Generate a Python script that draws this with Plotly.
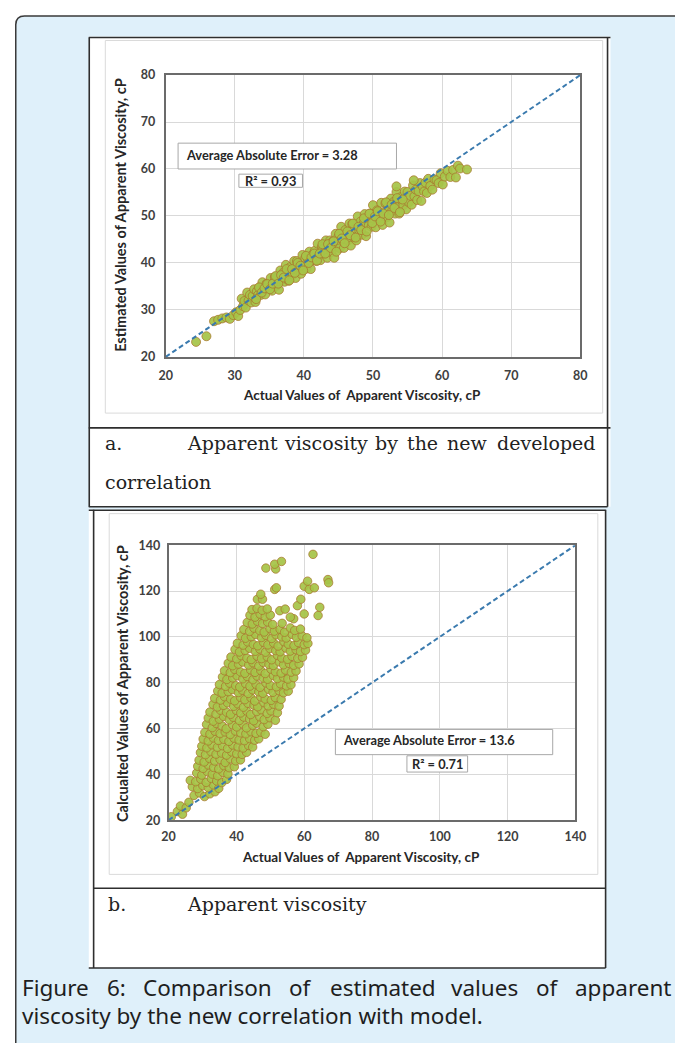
import plotly.graph_objects as go

W, H = 675, 1046

# ---------------- data: panel a (actual vs estimated) ----------------
xa = [24.4, 25.9, 27.0, 27.6, 28.2, 28.8, 29.3, 29.8, 30.2, 30.5, 30.8,
      31.0, 31.2, 31.4, 31.6, 31.8, 32.0, 32.2, 32.4, 32.6, 32.8, 33.0, 33.2, 33.4, 33.6, 33.8, 34.0, 34.2, 34.4, 34.6, 34.8,
      35.0, 35.2, 35.4, 35.6, 35.8, 36.0, 36.2, 36.4, 36.6, 36.8, 37.0, 37.2, 37.4, 37.6, 37.8, 38.0, 38.2, 38.4, 38.6, 38.8,
      39.0, 39.2, 39.4, 39.6, 39.8, 40.0, 40.2, 40.4, 40.6, 40.8, 41.0, 41.2, 41.4, 41.6, 41.8, 42.0, 42.2, 42.4, 42.6, 42.8,
      43.0, 43.2, 43.4, 43.6, 43.8, 44.0, 44.2, 44.4, 44.6, 44.8, 45.0, 45.2, 45.4, 45.6, 45.8, 46.0, 46.2, 46.4, 46.6, 46.8,
      47.0, 47.2, 47.4, 47.6, 47.8, 48.0, 48.2, 48.4, 48.6, 48.8, 49.0, 49.2, 49.4, 49.6, 49.8, 50.0, 50.2, 50.4, 50.6, 50.8,
      51.0, 51.2, 51.4, 51.6, 51.8, 52.0, 52.2, 52.4, 52.6, 52.8, 53.0, 53.2, 53.4, 53.6, 53.8, 54.0, 54.2, 54.4, 54.6, 54.8,
      55.0, 55.2, 55.4, 55.6, 55.8, 56.0, 56.2, 56.4, 56.6, 56.8, 57.0, 57.2, 57.4, 57.6, 57.8, 58.0, 58.3, 58.6, 58.9, 59.2,
      59.5, 59.8, 60.1, 60.4, 60.8, 61.2, 61.6, 62.0, 62.3, 62.6, 63.6, 53.4, 55.9,
      33.1, 33.5, 33.9, 34.3, 34.7, 35.1, 35.5, 35.9, 36.3, 36.7, 37.1, 37.5, 37.9, 38.3, 38.7, 39.1, 39.5, 39.9,
      40.3, 40.7, 41.1, 41.5, 41.9, 42.3, 42.7, 43.1, 43.5, 43.9, 44.3, 44.7, 45.1, 45.5, 45.9, 46.3, 46.7, 47.1,
      47.5, 47.9, 48.3, 48.7, 49.1, 49.5, 49.9, 50.3, 50.7, 51.1, 51.5, 51.9, 52.3, 52.7, 53.1, 53.5, 53.9, 54.3]
ya = [23.2, 24.4, 27.6, 27.9, 28.2, 28.4, 28.1, 28.9, 29.5, 28.7, 30.0,
      32.4, 30.8, 31.9, 30.5, 33.7, 32.0, 33.2, 31.6, 33.0, 34.4, 31.7, 34.0, 33.2, 34.8, 33.2, 35.9, 34.3, 33.3, 35.6, 35.4,
      34.6, 36.8, 34.1, 35.8, 37.0, 35.1, 36.9, 34.3, 38.4, 36.4, 37.9, 36.0, 39.6, 37.5, 36.2, 39.1, 38.4, 37.5, 40.4, 36.8,
      40.4, 38.3, 39.6, 37.7, 41.7, 39.5, 41.0, 38.8, 40.7, 42.4, 38.7, 41.7, 40.6, 42.6, 40.4, 44.1, 41.8, 40.6, 43.4, 43.0,
      41.9, 44.8, 41.1, 43.3, 44.8, 42.3, 44.6, 41.1, 46.2, 43.8, 45.6, 43.1, 47.7, 44.9, 43.2, 47.0, 46.1, 44.8, 48.4, 43.7,
      48.3, 45.5, 47.3, 44.8, 49.9, 47.0, 48.8, 46.0, 48.3, 50.4, 45.7, 49.5, 48.0, 50.5, 47.7, 52.3, 49.4, 47.6, 51.2, 50.7,
      49.3, 52.8, 48.1, 50.8, 52.7, 49.7, 52.0, 48.6, 53.7, 51.2, 53.0, 50.5, 55.1, 52.2, 50.5, 54.0, 53.2, 52.3, 55.2, 51.4,
      55.1, 52.9, 54.3, 52.4, 56.5, 54.2, 55.6, 53.4, 55.3, 57.0, 53.2, 56.3, 55.2, 57.1, 54.9, 57.9, 56.4, 55.6, 57.8, 57.6,
      57.0, 59.1, 56.7, 58.4, 59.6, 58.3, 59.8, 58.2, 60.7, 60.1, 59.9, 56.3, 57.6,
      32.3, 34.8, 33.7, 34.6, 35.5, 34.4, 35.6, 37.2, 35.6, 37.4, 36.9, 38.7, 36.3, 38.7, 37.9, 40.0, 39.4, 38.4,
      41.5, 40.0, 41.2, 42.0, 40.5, 42.0, 44.0, 42.0, 44.0, 43.2, 44.6, 42.4, 46.2, 45.2, 44.2, 46.7, 45.9, 48.4,
      45.4, 47.7, 47.0, 49.5, 46.7, 50.5, 48.5, 49.9, 51.0, 48.8, 50.5, 52.9, 50.2, 52.4, 51.7, 53.8, 50.8, 53.5]

# ---------------- data: panel b (actual vs calculated) ----------------
xb = [20.8, 22.6, 24.1, 23.5, 25.2, 26.0,
      27.5, 29.1, 30.6, 32.2, 33.7,
      27.0, 28.6, 30.1, 31.7, 33.2, 34.8,
      26.4, 28.0, 29.5, 31.1, 32.6, 34.2, 35.7, 37.1,
      28.3, 29.8, 31.4, 32.9, 34.5, 36.0, 37.5,
      28.6, 30.2, 31.7, 33.3, 34.8, 36.3, 37.9, 39.4,
      29.0, 30.5, 32.1, 33.6, 35.2, 36.7, 38.2, 39.8, 41.2,
      29.4, 30.9, 32.5, 34.0, 35.6, 37.1, 38.6, 40.1, 41.7, 43.0,
      29.8, 31.3, 32.8, 34.4, 35.9, 37.4, 38.9, 40.5, 42.0, 43.6, 44.8,
      30.2, 31.7, 33.2, 34.7, 36.3, 37.8, 39.3, 40.8, 42.4, 43.9, 45.4, 46.6,
      30.7, 32.2, 33.7, 35.2, 36.7, 38.2, 39.7, 41.3, 42.8, 44.3, 45.8, 47.2, 48.5,
      31.2, 32.9, 34.1, 35.8, 37.0, 38.9, 40.1, 41.9, 43.0, 44.8, 46.0, 47.9, 49.3,
      31.7, 33.2, 35.0, 36.2, 37.9, 39.1, 40.9, 42.2, 43.9, 45.1, 46.9, 48.2, 49.9, 51.5,
      32.2, 34.0, 35.3, 37.1, 38.3, 40.0, 41.3, 43.1, 44.2, 46.0, 47.3, 49.1, 50.2, 52.1,
      33.1, 34.4, 36.2, 37.4, 39.2, 40.4, 42.1, 43.4, 45.2, 46.3, 48.1, 49.4, 51.0, 52.6,
      33.6, 35.3, 36.5, 38.3, 39.5, 41.2, 42.5, 44.3, 45.4, 47.2, 48.5, 50.3, 51.5, 53.2,
      34.5, 35.8, 37.6, 38.8, 40.6, 41.8, 43.5, 44.8, 46.6, 47.8, 49.5, 50.8, 52.6, 53.9, 55.3,
      35.0, 36.8, 38.0, 39.8, 41.0, 42.7, 44.0, 45.8, 47.0, 48.7, 50.0, 51.8, 53.0, 54.8, 56.1,
      35.9, 37.2, 38.9, 40.2, 41.9, 43.2, 44.9, 46.1, 47.9, 49.2, 50.9, 52.1, 53.9, 55.2, 56.9,
      36.5, 38.2, 39.5, 41.2, 42.5, 44.2, 45.5, 47.2, 48.5, 50.2, 51.5, 53.2, 54.5, 56.2, 57.6,
      37.6, 38.9, 40.6, 41.9, 43.6, 44.9, 46.6, 47.9, 49.6, 50.9, 52.6, 53.9, 55.6, 56.9, 58.5,
      38.4, 40.1, 41.4, 43.1, 44.4, 46.1, 47.4, 49.1, 50.4, 52.1, 53.4, 55.1, 56.4, 58.1, 59.5,
      39.6, 40.9, 42.6, 43.9, 45.6, 46.9, 48.6, 49.9, 51.6, 52.9, 54.6, 55.9, 57.6, 58.9, 60.4,
      40.3, 42.0, 43.3, 45.0, 46.3, 48.0, 49.3, 51.0, 52.3, 54.0, 55.3, 57.0, 58.3, 60.0, 61.1,
      41.4, 42.7, 44.4, 45.7, 47.4, 48.7, 50.4, 51.7, 53.4, 54.7, 56.4, 57.7, 59.4, 60.8,
      42.2, 43.9, 45.2, 46.9, 48.2, 49.9, 51.2, 52.9, 54.2, 55.9, 57.2, 58.9,
      43.2, 44.7, 46.2, 47.7, 49.2, 50.7, 53.5, 56.9,
      44.0, 45.5, 47.0, 48.5, 50.0, 55.9, 60.0, 64.1,
      44.6, 46.1, 47.6, 49.1, 52.8, 54.4, 58.0, 64.6,
      46.2, 47.7, 47.2, 59.0, 51.3, 51.8, 60.0, 61.5, 63.0, 61.0, 67.0, 67.2, 48.7, 51.6, 51.3, 53.3, 62.6]
yb = [21.5, 23.8, 22.6, 26.2, 25.4, 27.8,
      30.8, 31.9, 30.3, 31.5, 32.4,
      34.6, 33.8, 35.1, 34.2, 35.4, 33.9,
      37.4, 36.8, 37.9, 36.5, 38.2, 37.1, 36.4, 37.8,
      40.6, 39.7, 41.2, 40.1, 39.4, 40.9, 40.2,
      43.5, 42.6, 44.1, 43.0, 42.4, 43.8, 42.9, 43.3,
      46.2, 45.4, 46.9, 45.8, 46.5, 45.2, 46.8, 45.9, 46.3,
      49.5, 48.6, 49.9, 48.8, 49.3, 48.4, 49.8, 49.0, 48.7, 49.6,
      52.3, 51.6, 52.9, 51.8, 52.5, 51.3, 52.8, 52.0, 51.5, 52.6, 51.9,
      55.4, 54.6, 55.9, 54.8, 55.3, 54.4, 55.8, 55.0, 54.7, 55.6, 54.9, 55.5,
      58.3, 57.6, 58.8, 57.8, 58.5, 57.4, 58.9, 58.1, 57.7, 58.6, 57.9, 58.4, 57.5,
      61.8, 60.4, 62.2, 61.1, 59.9, 61.6, 60.7, 62.0, 60.3, 61.4, 62.3, 60.8, 61.9,
      64.6, 63.2, 64.1, 65.3, 63.8, 64.9, 63.5, 65.0, 64.2, 63.4, 65.1, 63.9, 64.7, 63.6,
      67.2, 66.3, 68.0, 67.1, 66.2, 67.9, 66.8, 67.6, 66.1, 67.4, 68.2, 66.6, 67.7, 66.9,
      70.5, 69.4, 70.1, 71.2, 69.7, 70.8, 69.3, 71.0, 70.2, 69.5, 71.3, 69.9, 70.6, 69.8,
      73.2, 72.4, 73.9, 72.8, 72.1, 73.6, 72.6, 73.4, 72.0, 73.8, 72.9, 72.3, 73.5, 72.7,
      76.4, 75.5, 76.1, 77.0, 75.7, 76.7, 75.3, 76.9, 76.0, 75.4, 77.1, 75.8, 76.5, 75.6, 76.3,
      79.2, 78.4, 79.8, 78.7, 78.1, 79.6, 78.5, 79.3, 78.0, 79.9, 78.8, 78.2, 79.5, 78.6, 79.1,
      82.5, 81.4, 82.1, 83.0, 81.7, 82.7, 81.3, 82.9, 82.0, 81.5, 83.1, 81.8, 82.4, 81.6, 82.2,
      85.2, 84.4, 85.8, 84.7, 84.1, 85.6, 84.5, 85.3, 84.0, 85.9, 84.8, 84.2, 85.5, 84.6, 85.1,
      88.5, 87.4, 88.1, 89.0, 87.7, 88.7, 87.3, 88.9, 88.0, 87.5, 89.1, 87.8, 88.4, 87.6, 88.2,
      91.2, 90.4, 91.8, 90.7, 90.1, 91.6, 90.5, 91.3, 90.0, 91.9, 90.8, 90.2, 91.5, 90.6, 91.1,
      94.5, 93.4, 94.1, 95.0, 93.7, 94.7, 93.3, 94.9, 94.0, 93.5, 95.1, 93.8, 94.4, 93.6, 94.2,
      97.2, 96.4, 97.8, 96.7, 96.1, 97.6, 96.5, 97.3, 96.0, 97.9, 96.8, 96.2, 97.5, 96.6, 97.1,
      100.5, 99.4, 100.1, 101.0, 99.7, 100.7, 99.3, 100.9, 100.0, 99.5, 101.1, 99.8, 100.4, 99.6,
      103.2, 102.4, 103.8, 102.7, 102.1, 103.6, 102.5, 103.3, 102.0, 103.9, 102.8, 103.4,
      106.3, 105.6, 106.8, 105.8, 106.5, 105.4, 105.9, 107.9,
      109.4, 108.6, 109.9, 108.8, 109.5, 108.6, 110.0, 109.3,
      111.9, 112.4, 111.6, 112.2, 111.4, 112.1, 113.6, 112.9,
      116.4, 116.4, 118.6, 116.4, 120.7, 121.4, 122.1, 120.7, 121.4, 124.3, 125.0, 123.6, 130.0, 129.6, 131.7, 132.9, 136.0]

diag_a = [20, 80]
diag_b = [20, 140]
ticks_a = [20, 30, 40, 50, 60, 70, 80]
ticks_b = [20, 40, 60, 80, 100, 120, 140]

xtitle = "Actual Values of\u00a0 Apparent Viscosity, cP"
ytitle_a = "Estimated Values of Apparent Viscosity, cP"
ytitle_b = "Calcualted Values of Apparent Viscosity, cP"
aae_a, r2_a = "Average Absolute Error = 3.28", "R² = 0.93"
aae_b, r2_b = "Average Absolute Error = 13.6", "R² = 0.71"
cap_a1 = ["Apparent", "viscosity", "by", "the", "new"]
cap_a1_last = "developed"
cap_a2 = "correlation"
cap_b = "Apparent viscosity"
fig_line1 = ["Figure", "6:", "Comparison", "of", "estimated", "values", "of", "apparent"]
fig_line2 = "viscosity by the new correlation with model."

# ---------------- helpers (pixel -> paper) ----------------
def PX(x):
    return x / W

def PY(y):
    return 1 - y / H

LIGHT_BLUE = "#DFF0FA"
FILL = "rgba(166,196,72,0.93)"
EDGE = "rgba(170,118,46,0.75)"
DASH = "#3A7AAE"
CHART_FONT = "Lato"

fig = go.Figure()

fig.add_trace(go.Scatter(x=xa, y=ya, mode="markers", xaxis="x", yaxis="y",
                         marker=dict(size=9, color=FILL, line=dict(color=EDGE, width=1)),
                         hoverinfo="skip"))
fig.add_trace(go.Scatter(x=diag_a, y=diag_a, mode="lines", xaxis="x", yaxis="y",
                         line=dict(color=DASH, width=2, dash="5px,3px"), hoverinfo="skip"))
fig.add_trace(go.Scatter(x=xb, y=yb, mode="markers", xaxis="x2", yaxis="y2",
                         marker=dict(size=8.5, color=FILL, line=dict(color=EDGE, width=1)),
                         hoverinfo="skip"))
fig.add_trace(go.Scatter(x=diag_b, y=diag_b, mode="lines", xaxis="x2", yaxis="y2",
                         line=dict(color=DASH, width=2, dash="5px,3px"), hoverinfo="skip"))

tickfont = dict(family=CHART_FONT, size=12.5, color="#404040", weight="bold")
axis_common = dict(showgrid=True, gridcolor="#D9D9D9", gridwidth=1, showline=True,
                   linecolor="#6B6B6B", linewidth=1.8, mirror=True, zeroline=False,
                   ticks="", tickfont=tickfont, fixedrange=True)

fig.update_layout(
    width=W, height=H, margin=dict(l=0, r=0, t=0, b=0),
    paper_bgcolor="white", plot_bgcolor="white", showlegend=False,
    xaxis=dict(domain=[PX(163), PX(589)], range=[20, 80], tickvals=ticks_a, anchor="y",
               ticklabelstandoff=6, **axis_common),
    yaxis=dict(domain=[PY(354), PY(68)], range=[20, 80], tickvals=ticks_a, anchor="x",
               ticklabelstandoff=6, **axis_common),
    xaxis2=dict(domain=[PX(166), PX(584)], range=[20, 140], tickvals=ticks_b, anchor="y2",
                ticklabelstandoff=4, **axis_common),
    yaxis2=dict(domain=[PY(824), PY(545)], range=[20, 140], tickvals=ticks_b, anchor="x2",
                ticklabelstandoff=4, **axis_common),
)

shapes = []
shapes.append(dict(type="path", xref="paper", yref="paper", layer="below",
                   path=f"M{PX(9)},{PY(1050)} L{PX(9)},{PY(17)} Q{PX(9)},{PY(8)} {PX(18)},{PY(8)} "
                        f"L{PX(690)},{PY(8)} L{PX(690)},{PY(1050)} Z",
                   fillcolor=LIGHT_BLUE, line=dict(width=0)))
shapes.append(dict(type="path", xref="paper", yref="paper", layer="below",
                   path=f"M{PX(9)},{PY(1050)} L{PX(9)},{PY(17)} Q{PX(9)},{PY(8)} {PX(18)},{PY(8)} L{PX(690)},{PY(8)}",
                   fillcolor="rgba(0,0,0,0)", line=dict(color="#3A3A3A", width=1.5)))
shapes.append(dict(type="rect", xref="paper", yref="paper", layer="below",
                   x0=PX(84), x1=PX(620), y0=PY(506), y1=PY(29),
                   fillcolor="white", line=dict(width=0)))
shapes.append(dict(type="rect", xref="paper", yref="paper", layer="below",
                   x0=PX(84), x1=PX(615), y0=PY(974), y1=PY(509),
                   fillcolor="white", line=dict(width=0)))
shapes.append(dict(type="rect", xref="paper", yref="paper", layer="below",
                   x0=PX(101), x1=PX(612), y0=PY(411), y1=PY(33),
                   fillcolor="rgba(0,0,0,0)", line=dict(color="#DADADA", width=1)))
shapes.append(dict(type="rect", xref="paper", yref="paper", layer="below",
                   x0=PX(105), x1=PX(607), y0=PY(879), y1=PY(513),
                   fillcolor="rgba(0,0,0,0)", line=dict(color="#DADADA", width=1)))

def hline(x0, x1, y, w=1.6, c="#2E2E2E"):
    shapes.append(dict(type="line", xref="paper", yref="paper", layer="below",
                       x0=PX(x0), x1=PX(x1), y0=PY(y), y1=PY(y), line=dict(color=c, width=w)))

def vline(x, y0, y1, w=1.6, c="#2E2E2E"):
    shapes.append(dict(type="line", xref="paper", yref="paper", layer="below",
                       x0=PX(x), x1=PX(x), y0=PY(y0), y1=PY(y1), line=dict(color=c, width=w)))

hline(84, 620, 30)
vline(84.5, 30, 506)
vline(617, 30, 506)
hline(84, 620, 426)
hline(84, 617, 506)
hline(84, 615, 509.5)
vline(89, 509, 974)
vline(615, 509, 974)
hline(89, 615, 893)
hline(84, 615, 974)

box_line = dict(color="#A8A8A8", width=1)
shapes.append(dict(type="rect", xref="x", yref="y", x0=21.8, x1=53.4, y0=60.0, y1=65.5,
                   fillcolor="white", line=box_line, layer="above"))
shapes.append(dict(type="rect", xref="x", yref="y", x0=30.6, x1=39.8, y0=56.1, y1=58.9,
                   fillcolor="white", line=box_line, layer="above"))
shapes.append(dict(type="rect", xref="x2", yref="y2", x0=69.2, x1=133.3, y0=48.6, y1=59.6,
                   fillcolor="white", line=box_line, layer="above"))
shapes.append(dict(type="rect", xref="x2", yref="y2", x0=90.3, x1=108.2, y0=41.0, y1=48.1,
                   fillcolor="white", line=box_line, layer="above"))
fig.update_layout(shapes=shapes)

ann = []
sfont = dict(family=CHART_FONT, size=12.8, color="#262626", weight="bold")
ann.append(dict(xref="x", yref="y", x=22.6, y=62.9, text=aae_a, showarrow=False,
                xanchor="left", yanchor="middle", font=sfont))
ann.append(dict(xref="x", yref="y", x=35.2, y=57.5, text=r2_a, showarrow=False,
                xanchor="center", yanchor="middle", font=sfont))
ann.append(dict(xref="x2", yref="y2", x=70.8, y=55.2, text=aae_b, showarrow=False,
                xanchor="left", yanchor="middle", font=sfont))
ann.append(dict(xref="x2", yref="y2", x=99.2, y=44.4, text=r2_b, showarrow=False,
                xanchor="center", yanchor="middle", font=sfont))

tfont_x = dict(family=CHART_FONT, size=13.5, color="#262626", weight="bold")
tfont_y = dict(family=CHART_FONT, size=14.5, color="#262626", weight="bold")
ann.append(dict(xref="paper", yref="paper", x=PX(365), y=PY(393), text=xtitle, showarrow=False,
                xanchor="center", yanchor="middle", font=tfont_x))
ann.append(dict(xref="paper", yref="paper", x=PX(364), y=PY(861), text=xtitle, showarrow=False,
                xanchor="center", yanchor="middle", font=tfont_x))
ann.append(dict(xref="paper", yref="paper", x=PX(117), y=PY(210), text=ytitle_a, showarrow=False,
                textangle=-90, xanchor="center", yanchor="middle", font=tfont_y))
ann.append(dict(xref="paper", yref="paper", x=PX(118), y=PY(685), text=ytitle_b, showarrow=False,
                textangle=-90, xanchor="center", yanchor="middle", font=tfont_y))

serif = dict(family="DejaVu Serif", size=19, color="#222222")
ann.append(dict(xref="paper", yref="paper", x=PX(99), y=PY(441), text="a.", showarrow=False,
                xanchor="left", yanchor="middle", font=serif))
for word, xpos in zip(cap_a1, [183, 283, 376, 409, 450]):
    ann.append(dict(xref="paper", yref="paper", x=PX(xpos), y=PY(441), text=word, showarrow=False,
                    xanchor="left", yanchor="middle", font=serif))
ann.append(dict(xref="paper", yref="paper", x=PX(606), y=PY(441), text=cap_a1_last, showarrow=False,
                xanchor="right", yanchor="middle", font=serif))
ann.append(dict(xref="paper", yref="paper", x=PX(99), y=PY(481), text=cap_a2, showarrow=False,
                xanchor="left", yanchor="middle", font=serif))
ann.append(dict(xref="paper", yref="paper", x=PX(102), y=PY(909), text="b.", showarrow=False,
                xanchor="left", yanchor="middle", font=serif))
ann.append(dict(xref="paper", yref="paper", x=PX(183), y=PY(909), text=cap_b, showarrow=False,
                xanchor="left", yanchor="middle", font=serif))

sans = dict(family="Noto Sans", size=22.5, color="#1E1E1E")
for word, xpos in zip(fig_line1, [13, 101, 138, 288, 330, 454, 541, 581]):
    ann.append(dict(xref="paper", yref="paper", x=PX(xpos), y=PY(994), text=word, showarrow=False,
                    xanchor="left", yanchor="middle", font=sans))
ann.append(dict(xref="paper", yref="paper", x=PX(13), y=PY(1022), text=fig_line2, showarrow=False,
                xanchor="left", yanchor="middle", font=sans))

fig.update_layout(annotations=ann)

fig.write_html("out.html")
